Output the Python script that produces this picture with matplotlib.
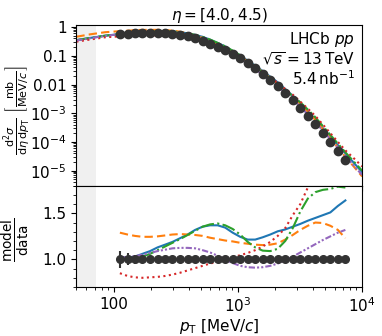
import numpy as np
import matplotlib
matplotlib.use('Agg')
import matplotlib.pyplot as plt
from matplotlib.ticker import FuncFormatter, LogLocator, MultipleLocator, NullFormatter

plt.rcParams['font.size'] = 11

# measured points
pt = np.array([112, 129, 148, 170, 196, 225, 259, 297, 342, 393, 452, 519, 597,
               686, 789, 907, 1042, 1198, 1377, 1583, 1820, 2092, 2404, 2764,
               3177, 3652, 4198, 4826, 5546, 6376, 7328])
xsec = np.array([0.558, 0.587, 0.62, 0.64, 0.64, 0.64, 0.62, 0.59, 0.54, 0.475,
                 0.405, 0.336, 0.265, 0.203, 0.156, 0.113, 0.0824, 0.0553,
                 0.0372, 0.0236, 0.0147, 0.00908, 0.0052, 0.00298, 0.00158,
                 8.1e-4, 4.2e-4, 2.04e-4, 1.0e-4, 4.9e-5, 2.45e-5])
rel_err = np.array([0.09, 0.065, 0.045, 0.03, 0.02] + [0.015] * 26)

# model / data at the measured points
ratio_blue = [1.02, 1.02, 1.03, 1.06, 1.09, 1.13, 1.16, 1.19, 1.23, 1.27, 1.32,
              1.355, 1.37, 1.37, 1.345, 1.29, 1.245, 1.215, 1.215, 1.24, 1.27,
              1.305, 1.325, 1.355, 1.385, 1.42, 1.45, 1.48, 1.51, 1.58, 1.64]
ratio_orange = [1.29, 1.27, 1.255, 1.245, 1.245, 1.25, 1.26, 1.27, 1.275, 1.27,
                1.265, 1.255, 1.235, 1.22, 1.205, 1.195, 1.18, 1.17, 1.16, 1.155,
                1.16, 1.175, 1.215, 1.265, 1.32, 1.365, 1.40, 1.395, 1.365,
                1.32, 1.23]
ratio_green = [1.02, 1.015, 1.015, 1.03, 1.06, 1.10, 1.14, 1.18, 1.22, 1.265,
               1.31, 1.355, 1.38, 1.39, 1.37, 1.33, 1.27, 1.19, 1.13, 1.095,
               1.09, 1.115, 1.20, 1.34, 1.52, 1.66, 1.73, 1.755, 1.765, 1.79,
               1.78]
ratio_red = [0.85, 0.82, 0.805, 0.80, 0.805, 0.81, 0.82, 0.835, 0.855, 0.88,
             0.905, 0.93, 0.955, 0.975, 1.00, 1.025, 1.045, 1.07, 1.10, 1.14,
             1.19, 1.255, 1.34, 1.48, 1.60, 1.78, 1.92, 1.98, 2.02, 2.05, 2.08]
ratio_purple = [1.02, 1.025, 1.035, 1.05, 1.07, 1.09, 1.105, 1.12, 1.125, 1.125,
                1.12, 1.10, 1.075, 1.04, 0.995, 0.96, 0.93, 0.915, 0.91, 0.915,
                0.93, 0.955, 0.99, 1.03, 1.075, 1.12, 1.165, 1.21, 1.25, 1.29,
                1.32]

# model curves outside the measured range
pt_lo = np.array([50, 65, 85])
pt_hi = np.array([8500, 10000])
lo_blue, hi_blue = [0.35, 0.42, 0.50], [1.95e-5, 8.9e-6]
lo_orange, hi_orange = [0.46, 0.56, 0.66], [1.45e-5, 6.3e-6]
lo_green, hi_green = [0.35, 0.42, 0.50], [2.15e-5, 1.0e-5]
lo_red, hi_red = [0.31, 0.37, 0.44], [2.8e-5, 1.4e-5]
lo_purple, hi_purple = [0.34, 0.41, 0.49], [1.55e-5, 7.1e-6]

models = [
    (ratio_blue, lo_blue, hi_blue, 'C0', '-'),
    (ratio_orange, lo_orange, hi_orange, 'C1', (0, (4, 2))),
    (ratio_green, lo_green, hi_green, 'C2', '-.'),
    (ratio_red, lo_red, hi_red, 'C3', ':'),
    (ratio_purple, lo_purple, hi_purple, 'C4', (0, (3, 1, 1, 1, 1, 1))),
]


def fmt(v, pos):
    e = int(np.round(np.log10(v)))
    if abs(e) <= 2:
        return '%g' % v
    return r'$\mathdefault{10^{%d}}$' % e


fig = plt.figure(figsize=(3.82, 3.36), dpi=100)
ax = fig.add_axes([0.200, 0.4473, 0.748, 0.4774])
rax = fig.add_axes([0.200, 0.1458, 0.748, 0.3015], sharex=ax)

pt_all = np.concatenate([pt_lo, pt, pt_hi])
for r, lo, hi, c, ls in models:
    y = np.concatenate([lo, np.array(r) * xsec, hi])
    ax.plot(pt_all, y, color=c, ls=ls, lw=1.5, zorder=2)
    rax.plot(pt, r, color=c, ls=ls, lw=1.5, zorder=2)

ax.plot(pt, xsec, 'o', color='#333333', ms=6, zorder=3)
rax.errorbar(pt, np.ones_like(pt, dtype=float), yerr=rel_err, fmt='o',
             color='#333333', ms=5.5, elinewidth=1.5, zorder=3)

for a in (ax, rax):
    a.axvspan(50, 72, color='#f0f0f0', lw=0, zorder=0)

ax.set_xscale('log')
ax.set_yscale('log')
ax.set_xlim(50, 1e4)
ax.set_ylim(3e-6, 1.15)
ax.yaxis.set_major_locator(LogLocator(base=10, numticks=12))
ax.yaxis.set_minor_locator(LogLocator(base=10, subs=np.arange(2, 10), numticks=12))
ax.yaxis.set_major_formatter(FuncFormatter(fmt))
ax.yaxis.set_minor_formatter(NullFormatter())
ax.tick_params(labelbottom=False)
ax.set_title(r'$\eta = [4.0, 4.5)$', fontsize=11, pad=3)
ax.text(0.975, 0.97, 'LHCb $pp$\n' + r'$\sqrt{s} = 13\,\mathrm{TeV}$' + '\n'
        + r'$5.4\,\mathrm{nb}^{-1}$', transform=ax.transAxes,
        ha='right', va='top', fontsize=11, linespacing=1.1)
ax.set_ylabel(r'$\frac{\mathrm{d}^2\sigma}{\mathrm{d}\eta\,\mathrm{d}p_\mathrm{T}}$'
              r'$\ \left[\frac{\mathrm{mb}}{\mathrm{MeV}/c}\right]$', fontsize=11.5)
ax.yaxis.set_label_coords(-0.152, 0.47)

rax.set_ylim(0.7, 1.8)
rax.yaxis.set_major_locator(MultipleLocator(0.5))
rax.yaxis.set_minor_locator(MultipleLocator(0.1))
rax.xaxis.set_major_formatter(FuncFormatter(fmt))
rax.xaxis.set_minor_formatter(NullFormatter())
rax.set_xlabel(r'$p_\mathrm{T}$ [MeV/$c$]', labelpad=1)
rax.set_ylabel(r'$\frac{\mathrm{model}}{\mathrm{data}}$', fontsize=14)
rax.yaxis.set_label_coords(-0.155, 0.47)

fig.savefig('out.png', dpi=100)
